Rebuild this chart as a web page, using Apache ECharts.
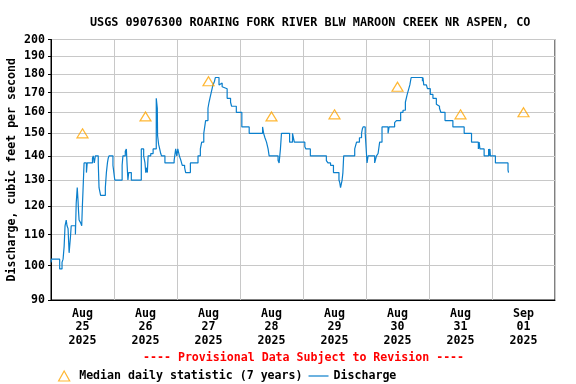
<!DOCTYPE html>
<html>
<head>
<meta charset="utf-8">
<script src="https://cdn.jsdelivr.net/npm/echarts@6/dist/echarts.min.js"></script>
<style>html,body{margin:0;padding:0;background:#fff}#c{width:576px;height:384px}</style>
</head>
<body>
<div id="c"></div>
<script>
const titleText = 'USGS 09076300 ROARING FORK RIVER BLW MAROON CREEK NR ASPEN, CO';
const yAxisName = 'Discharge, cubic feet per second';
const provisionalText = '---- Provisional Data Subject to Revision ----';
const dayLabels = ['Aug\n25\n2025','Aug\n26\n2025','Aug\n27\n2025','Aug\n28\n2025','Aug\n29\n2025','Aug\n30\n2025','Aug\n31\n2025','Sep\n01\n2025'];
const yTicks = [90,100,110,120,130,140,150,160,170,180,190,200];
const medianName = 'Median daily statistic (7 years)';
const dischargeName = 'Discharge';
const medianValues = [150,158,176,158,159,173,159,160];
// hours since Aug 25 2025 00:00 at which discharge changes, and the new value
const dischargeHours = [0.0,0.2,3.3,4.2,4.6,5.0,5.35,5.8,6.1,6.5,6.9,7.4,7.7,9.3,9.6,10.0,10.3,10.5,10.7,11.3,11.7,11.95,12.2,12.6,13.5,13.8,15.8,16.1,16.5,16.9,18.0,18.3,18.9,20.7,21.1,21.5,21.8,22.1,23.6,24.3,27.1,27.4,28.3,28.7,29.0,29.3,29.6,30.6,34.4,35.3,35.8,36.1,36.5,36.7,37.0,38.0,38.9,40.1,40.5,40.6,41.0,41.4,41.8,42.1,43.4,46.9,47.5,47.9,48.3,48.9,49.5,50.0,50.9,51.3,53.1,56.0,56.9,57.4,58.2,58.9,59.8,60.2,60.7,61.2,61.7,62.3,62.6,64.0,64.6,65.2,65.5,65.8,67.1,68.4,68.8,70.6,72.7,75.5,80.6,81.0,81.5,82.1,82.7,83.1,86.5,86.9,87.4,87.8,90.9,92.0,92.7,96.7,97.1,98.8,104.9,105.5,106.5,107.6,109.7,110.0,110.3,110.9,111.2,111.5,115.7,116.4,117.5,118.3,118.6,118.9,119.7,120.4,120.8,123.3,124.0,124.6,125.2,126.1,128.4,128.8,130.9,131.6,133.2,134.1,135.0,135.7,136.1,136.7,137.2,141.5,141.7,142.0,143.0,143.4,144.5,145.5,146.8,147.3,148.0,148.5,150.1,153.1,157.4,160.2,162.8,163.1,163.4,165.0,166.7,166.9,167.2,167.4,169.3,174.1,174.3];
const dischargeValues = [101,102,99,101,102,106,113,115,113,112,104,109,113,110,121,127,122,118,115,114,113,120,126,137,133,137,139,140,137,140,137,127,124,127,133,137,139,140,136,130,136,140,142,143,136,130,133,130,143,140,137,133,135,133,140,141,143,167,162,149,145,143,141,140,137,138,143,140,143,140,138,136,135,133,137,140,143,146,150,156,162,165,168,171,174,176,178,174,175,173,174,172,167,165,163,160,153,150,153,150,148,146,143,140,138,137,143,150,146,150,146,144,143,140,138,137,136,133,130,129,127,130,133,140,143,146,148,150,152,153,150,137,140,137,140,141,146,153,150,153,155,156,160,161,165,169,171,174,178,176,178,174,173,172,169,167,164,163,162,160,156,153,150,146,143,146,143,140,143,140,143,140,137,134,133];

const dischargeData = dischargeHours.map((h, i) => [h, dischargeValues[i]]);
const font = 'DejaVu Sans Mono';
const chart = echarts.init(document.getElementById('c'), null, {renderer: 'canvas'});
chart.setOption({
  animation: false,
  backgroundColor: '#fff',
  title: {
    text: titleText, left: 85, top: 12,
    textStyle: {fontFamily: font, fontSize: 11.8, fontWeight: 'bold', color: '#000'}
  },
  grid: {left: 51, right: 21, top: 39.5, bottom: 84, containLabel: false, outerBoundsMode: 'none',
    show: true, borderColor: '#000', borderWidth: 1, backgroundColor: 'transparent'},
  xAxis: [{
    type: 'value', min: 0, max: 192, interval: 24,
    axisLine: {show: true, lineStyle: {color: '#000', width: 1}},
    axisTick: {show: false}, axisLabel: {show: false},
    splitLine: {show: true, lineStyle: {color: '#c8c8c8', width: 1}}
  }, {
    type: 'category', data: dayLabels, boundaryGap: true, position: 'bottom',
    axisLine: {show: false}, axisTick: {show: false}, splitLine: {show: false},
    axisLabel: {margin: 7, lineHeight: 13.5, fontFamily: font, fontSize: 11.6, fontWeight: 'bold', color: '#000', interval: 0}
  }],
  yAxis: {
    type: 'log', logBase: 10, min: 90, max: 200,
    name: yAxisName, nameLocation: 'middle', nameGap: 33, nameMoveOverlap: false,
    nameTextStyle: {fontFamily: font, fontSize: 11.6, fontWeight: 'bold', color: '#000'},
    axisLine: {show: true, lineStyle: {color: '#000', width: 1}},
    axisTick: {show: true, length: 3, customValues: yTicks, lineStyle: {color: '#000'}},
    axisLabel: {customValues: yTicks, margin: 6, fontFamily: font, fontSize: 11.6, fontWeight: 'bold', color: '#000',
      formatter: v => String(Math.round(v))},
    splitLine: {show: true, lineStyle: {color: '#c8c8c8', width: 1}}
  },
  legend: {
    left: 53, top: 365, itemWidth: 20, itemHeight: 10, itemGap: 6,
    textStyle: {fontFamily: font, fontSize: 11.6, fontWeight: 'bold', color: '#000'},
    data: [
      {name: medianName, icon: 'path://M5,0L10,9L0,9Z', itemStyle: {color: 'transparent', borderColor: '#ffa500', borderWidth: 1.2}},
      {name: dischargeName, icon: 'path://M0,4.4L20,4.4L20,5.6L0,5.6Z', itemStyle: {color: '#0b7fcc', borderWidth: 0}}
    ]
  },
  graphic: [{
    type: 'text', left: 143, top: 352,
    style: {text: provisionalText, fill: '#ff0000', font: 'bold 11.6px "DejaVu Sans Mono"'}
  }],
  series: [{
    name: dischargeName, type: 'line', xAxisIndex: 0, data: dischargeData,
    step: 'end', symbol: 'none', z: 3,
    lineStyle: {color: '#0b7fcc', width: 1.2}, itemStyle: {color: '#0b7fcc'}
  }, {
    name: medianName, type: 'scatter', xAxisIndex: 1, data: medianValues,
    symbol: 'triangle', symbolSize: [11, 9], z: 4,
    itemStyle: {color: 'transparent', borderColor: '#ffa500', borderWidth: 1.2}
  }]
});
</script>
</body>
</html>
